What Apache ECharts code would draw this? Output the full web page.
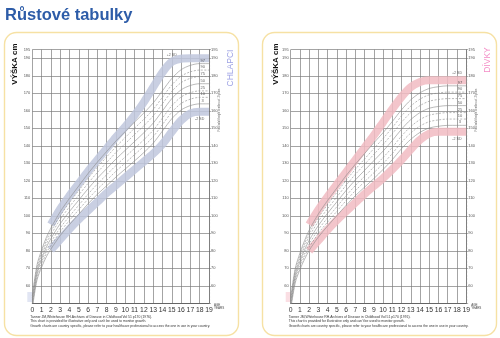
<!DOCTYPE html>
<html>
<head>
<meta charset="utf-8">
<script src="https://cdn.jsdelivr.net/npm/echarts@6/dist/echarts.min.js"></script>
<style>
html,body{margin:0;padding:0;background:#fff}
#c{width:500px;height:338px}
</style>
</head>
<body>
<div id="c"></div>
<script>
// Ages (years) at which the percentile curves are tabulated
const ages = [0,0.5,1,1.5,2,3,4,5,6,7,8,9,10,11,12,13,14,15,16,17,18,19];
// Ages for the shaded ±2 SD bands
const bandAges = [2,3,4,5,6,7,8,9,10,11,12,13,14,15,16,17,18,19];
const ageTicks = ['0','1','2','3','4','5','6','7','8','9','10','11','12','13','14','15','16','17','18','19'];

// Boys (CHLAPCI) height percentiles, cm
const boysP97 = [54.1,71.8,80.4,87.5,93.0,102.3,110.0,117.1,124.2,130.7,136.8,142.8,148.2,153.6,158.8,164.5,171.5,178.5,183.5,186.0,187.0,187.0];
const boysP90 = [52.9,70.4,78.8,85.7,91.1,100.1,107.6,114.5,121.4,127.8,133.7,139.5,144.8,150.1,155.2,160.8,167.8,174.8,179.8,182.3,183.3,183.3];
const boysP75 = [51.8,69.0,77.2,83.9,89.1,97.9,105.2,111.9,118.6,124.8,130.5,136.2,141.3,146.5,151.5,157.1,164.1,171.1,176.1,178.6,179.6,179.6];
const boysP50 = [50.5,67.5,75.5,82.0,87.0,95.5,102.5,109.0,115.5,121.5,127.0,132.5,137.5,142.5,147.5,153.0,160.0,167.0,172.0,174.5,175.5,175.5];
const boysP25 = [49.2,66.0,73.8,80.1,84.9,93.1,99.8,106.1,112.4,118.2,123.5,128.8,133.7,138.6,143.5,148.9,155.9,162.9,167.9,170.4,171.4,171.4];
const boysP10 = [48.1,64.6,72.2,78.3,82.9,90.9,97.4,103.5,109.6,115.2,120.3,125.5,130.2,135.0,139.8,145.2,152.2,159.2,164.2,166.7,167.7,167.7];
const boysP3  = [46.9,63.2,70.6,76.5,81.0,88.7,95.0,100.9,106.9,112.3,117.2,122.2,126.8,131.4,136.2,141.5,148.5,155.5,160.5,163.0,164.0,164.0];
const boysUpper = [95,104,111.5,118.5,125.5,132,138.5,145,151,157.5,165,173.5,182,188,189.8,190,190,190];
const boysLower = [80.5,86.5,92.5,98,103,108,113,117.5,122,126.5,131,135.5,141,148,154.5,158.5,159.5,159.5];

// Girls (DÍVKY) height percentiles, cm
const girlsP97 = [53.4,70.1,78.7,85.8,91.8,101.1,108.8,115.9,123.0,129.5,135.6,141.7,147.5,153.9,160.6,166.3,170.3,172.8,173.8,174.3,174.3,174.3];
const girlsP90 = [52.3,68.8,77.2,84.1,90.0,99.0,106.5,113.4,120.3,126.6,132.5,138.4,144.2,150.4,157.1,162.7,166.7,169.2,170.2,170.7,170.7,170.7];
const girlsP75 = [51.2,67.5,75.7,82.4,88.1,96.9,104.1,110.8,117.5,123.7,129.4,135.1,140.8,146.9,153.5,159.0,163.0,165.5,166.5,167.0,167.0,167.0];
const girlsP50 = [50.0,66.0,74.0,80.5,86.0,94.5,101.5,108.0,114.5,120.5,126.0,131.5,137.0,143.0,149.5,155.0,159.0,161.5,162.5,163.0,163.0,163.0];
const girlsP25 = [48.8,64.5,72.3,78.6,83.9,92.2,98.9,105.2,111.5,117.3,122.6,127.9,133.3,139.1,145.6,151.0,155.0,157.5,158.5,159.0,159.0,159.0];
const girlsP10 = [47.7,63.2,70.8,76.9,82.0,90.0,96.5,102.6,108.7,114.4,119.5,124.6,129.8,135.6,142.0,147.3,151.3,153.8,154.8,155.3,155.3,155.3];
const girlsP3  = [46.6,61.9,69.3,75.2,80.2,87.9,94.2,100.1,106.0,111.5,116.4,121.3,126.5,132.1,138.4,143.7,147.7,150.2,151.2,151.7,151.7,151.7];
const girlsUpper = [95,103.5,111,118,125,132,139,146,153.5,161,168,173.5,176.5,177.5,177.5,177.5,177.5,177.5];
const girlsLower = [80,86,92,97.5,102.5,107.5,112.5,117,121.5,126.5,132,138,143.5,147,148,148,148,148];

const pctNames = ['97','90','75','50','25','10','3'];
const dashedPct = {'90':true,'75':true,'25':true,'10':true};

const FONT = '"Liberation Sans", Arial, sans-serif';
const GRID_LINE = '#7c7c7c';

function lineSeries(axisIdx, xs, vals, style, z, smooth) {
  return {
    type: 'line', xAxisIndex: axisIdx, yAxisIndex: axisIdx * 2,
    smooth: smooth, symbol: 'none', silent: true, z: z,
    lineStyle: style,
    data: xs.map((a, i) => [a, vals[i]])
  };
}

// Text tags placed on chosen curve points (percentile numbers, SD marks)
function tagSeries(axisIdx, tags) {
  return {
    type: 'scatter', xAxisIndex: axisIdx, yAxisIndex: axisIdx * 2,
    symbolSize: 0, silent: true, z: 6,
    data: tags.map(t => ({
      value: [t.x, t.y],
      label: { show: true, formatter: t.text, position: t.pos, distance: t.dist,
        offset: t.off || [0, 0], fontSize: t.size, color: '#3a3a3a', fontFamily: FONT }
    }))
  };
}

function chartSeries(axisIdx, lists, upper, lower, bandColor, upTagAge, lowTagAge) {
  const out = [];
  // translucent bands laid over the grid, which stays faintly visible through them
  const bandStyle = { color: bandColor, width: 8, cap: 'butt', join: 'round' };
  out.push(lineSeries(axisIdx, bandAges, upper, bandStyle, 2, 0.3));
  out.push(lineSeries(axisIdx, bandAges, lower, bandStyle, 2, 0.3));
  lists.forEach((vals, k) => {
    const name = pctNames[k];
    out.push(lineSeries(axisIdx, ages, vals,
      { color: '#8c8c8c', width: 0.6, type: dashedPct[name] ? [2, 1.5] : 'solid' }, 3, 0.3));
  });
  const i18 = ages.indexOf(18);
  const tags = lists.map((vals, k) => ({ x: 18, y: vals[i18], text: pctNames[k], pos: 'top',
    dist: 1, off: [3, 0], size: 4 }));
  tags.push({ x: upTagAge, y: upper[bandAges.indexOf(upTagAge)], text: '+2 SD', pos: 'top', dist: 5, size: 3.6 });
  tags.push({ x: lowTagAge, y: lower[bandAges.indexOf(lowTagAge)], text: '-2 SD', pos: 'bottom', dist: 5, size: 3.6 });
  out.push(tagSeries(axisIdx, tags));
  return out;
}

function xAxisFor(gridIdx) {
  return {
    type: 'value', gridIndex: gridIdx, min: 0, max: 19, interval: 1,
    axisLine: { show: true, lineStyle: { color: '#555', width: 0.8 } },
    axisTick: { show: false },
    axisLabel: { fontSize: 6.8, color: '#333', margin: 3, fontFamily: FONT,
      formatter: v => ageTicks[v] },
    splitLine: { show: true, lineStyle: { color: GRID_LINE, width: 0.7 } }
  };
}

function yAxesFor(gridIdx) {
  const base = {
    type: 'value', gridIndex: gridIdx, min: 50, max: 195, interval: 10,
    axisLabel: { fontSize: 4, color: '#555', margin: 2, fontFamily: FONT,
      formatter: v => (v === 50 ? '' : String(v)) }
  };
  return [
    Object.assign({}, base, {
      position: 'left',
      axisLine: { show: false }, axisTick: { show: false },
      splitLine: { show: true, lineStyle: { color: GRID_LINE, width: 0.7 } }
    }),
    Object.assign({}, base, {
      position: 'right',
      axisLine: { show: true, lineStyle: { color: '#666', width: 0.6 } },
      axisTick: { show: true, length: 2, lineStyle: { color: '#666', width: 0.5 } },
      minorTick: { show: true, splitNumber: 5, length: 1.2, lineStyle: { color: '#888', width: 0.4 } },
      splitLine: { show: false }
    })
  ];
}

const BOYS_BAND = 'rgba(192,199,221,0.86)';
const GIRLS_BAND = 'rgba(241,187,194,0.86)';

const series = [].concat(
  chartSeries(0, [boysP97, boysP90, boysP75, boysP50, boysP25, boysP10, boysP3],
    boysUpper, boysLower, BOYS_BAND, 15, 18),
  chartSeries(1, [girlsP97, girlsP90, girlsP75, girlsP50, girlsP25, girlsP10, girlsP3],
    girlsUpper, girlsLower, GIRLS_BAND, 18, 18)
);

const footLines = [
  'Tanner JM,Whitehouse RH.Archives of Disease in Childhood Vol 51 p170 (1976).',
  "This chart is provided for illustrative only and can't be used to monitor growth.",
  'Growth charts are country specific, please refer to your healthcare professional to access the one in use in your country.'
];

function cardGraphics(x0, gridLeft, gridRight, sexLabel, sexColor, sexX, sexY, heightX, tintColor) {
  const g = [
    { type: 'rect', silent: true, z: -5,
      shape: { x: x0, y: 32.5, width: 234, height: 303, r: 12 },
      style: { fill: 'none', stroke: '#f6e1a4', lineWidth: 1.4 } },
    { type: 'text', x: heightX, y: 64, rotation: Math.PI / 2, silent: true,
      style: { text: 'VÝŠKA cm', font: 'bold 8px ' + FONT, fill: '#111',
        align: 'center', verticalAlign: 'middle' } },
    { type: 'text', x: sexX, y: sexY, rotation: Math.PI / 2, silent: true,
      style: { text: sexLabel, font: '8.5px ' + FONT, fill: sexColor,
        align: 'center', verticalAlign: 'middle' } },
    { type: 'text', x: gridRight + 10, y: 110, rotation: Math.PI / 2, silent: true,
      style: { text: 'Final adult height centiles at 19 years', font: '2.6px ' + FONT, fill: '#666',
        align: 'center', verticalAlign: 'middle' } },
    { type: 'text', x: gridRight + 5, y: 303, silent: true,
      style: { text: 'AGE\nYEARS', font: '3px ' + FONT, fill: '#444', lineHeight: 3.4,
        align: 'left', verticalAlign: 'top' } },
    { type: 'rect', silent: true, z: -4,
      shape: { x: gridLeft - 5, y: 292, width: 5, height: 10 },
      style: { fill: tintColor } }
  ];
  footLines.forEach((t, i) => {
    g.push({ type: 'text', x: gridLeft - 2, y: 315.5 + i * 4.3, silent: true,
      style: { text: t, font: '3.4px ' + FONT, fill: '#333', align: 'left', verticalAlign: 'top' } });
  });
  return g;
}

const option = {
  backgroundColor: '#fff',
  animation: false,
  grid: [
    { left: 32.3, top: 49.6, width: 176.7, height: 253.7 },
    { left: 290.7, top: 49.6, width: 175.5, height: 253.7 }
  ],
  xAxis: [xAxisFor(0), xAxisFor(1)],
  yAxis: [].concat(yAxesFor(0), yAxesFor(1)),
  series: series,
  graphic: [].concat(
    [{ type: 'text', left: 5, top: 6.5, silent: true,
       style: { text: 'Růstové tabulky', font: 'bold 16.5px ' + FONT, fill: '#2d5ca8' } }],
    cardGraphics(4.5, 32.3, 209, 'CHLAPCI', '#9da2e4', 231, 68, 15, 'rgba(170,180,220,0.35)'),
    cardGraphics(262.5, 290.7, 466.2, 'DÍVKY', '#f48cc6', 488, 60, 276, 'rgba(240,160,175,0.35)')
  )
};

const chart = echarts.init(document.getElementById('c'), null, { renderer: 'canvas' });
chart.setOption(option);
</script>
</body>
</html>
